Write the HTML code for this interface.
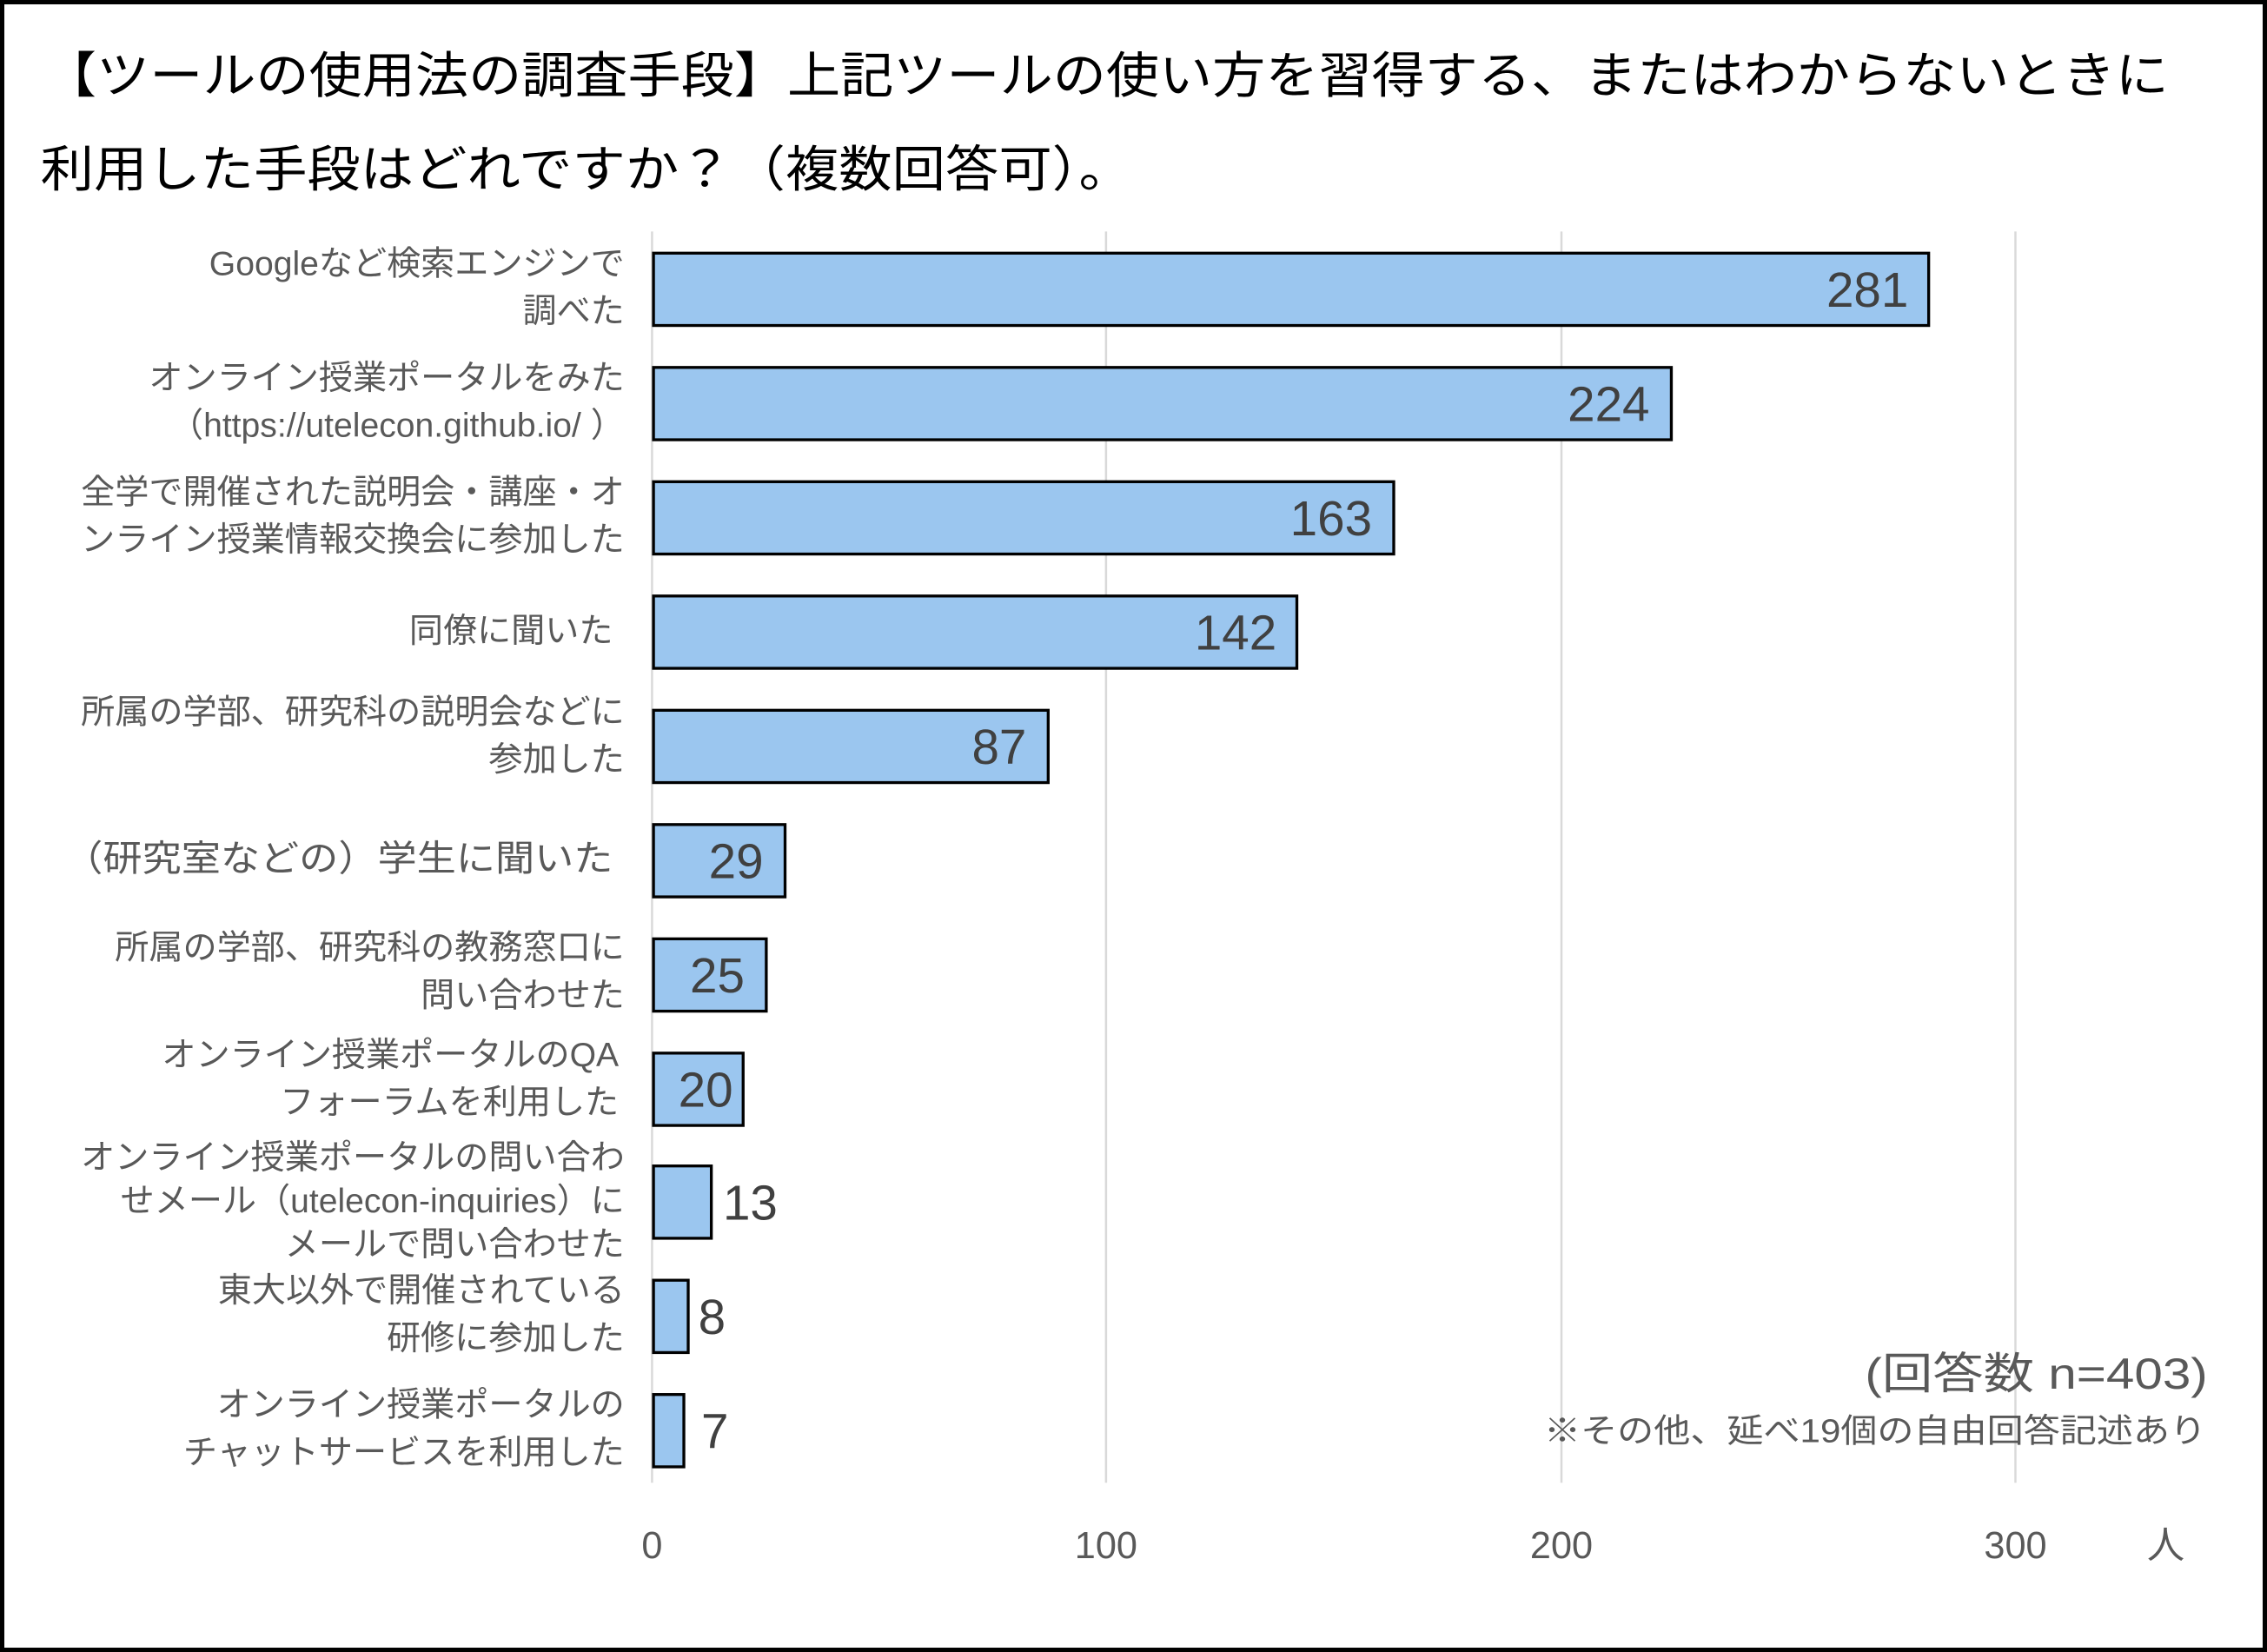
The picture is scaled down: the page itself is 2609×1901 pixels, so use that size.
<!DOCTYPE html>
<html><head><meta charset="utf-8"><style>
html,body{margin:0;padding:0;background:#fff;}
svg{display:block;}
text{font-family:"Liberation Sans","Noto Sans CJK JP",sans-serif;}
</style></head><body>
<svg width="2609" height="1901" viewBox="0 0 1568 1142" preserveAspectRatio="none" xmlns="http://www.w3.org/2000/svg">
<rect x="1.5" y="1.5" width="1565" height="1139" fill="#fff" stroke="#000" stroke-width="3"/>
<text x="30" y="64" font-size="34" fill="#000" textLength="1470" lengthAdjust="spacingAndGlyphs">【ツールの使用法の調査手段】上記ツールの使い方を習得する、またはわからないときに</text>
<text x="28" y="129" font-size="34" fill="#000" textLength="755" lengthAdjust="spacingAndGlyphs">利用した手段はどれですか？（複数回答可）。</text>
<g stroke="#d9d9d9" stroke-width="1.5">
<line x1="451" y1="160" x2="451" y2="1025"/><line x1="765" y1="160" x2="765" y2="1025"/>
<line x1="1080" y1="160" x2="1080" y2="1025"/><line x1="1394" y1="160" x2="1394" y2="1025"/>
</g>
<g fill="#9BC6EF" stroke="#000" stroke-width="2">
<rect x="452" y="175" width="882" height="50"/>
<rect x="452" y="254" width="704" height="50"/>
<rect x="452" y="333" width="512" height="50"/>
<rect x="452" y="412" width="445" height="50"/>
<rect x="452" y="491" width="273" height="50"/>
<rect x="452" y="570" width="91" height="50"/>
<rect x="452" y="649" width="78" height="50"/>
<rect x="452" y="728" width="62" height="50"/>
<rect x="452" y="806" width="40" height="50"/>
<rect x="452" y="885" width="24" height="50"/>
<rect x="452" y="964" width="21" height="50"/>
</g>
<g font-size="34" fill="#404040">
<text x="1320" y="212" text-anchor="end">281</text>
<text x="1141" y="291" text-anchor="end">224</text>
<text x="949" y="370" text-anchor="end">163</text>
<text x="883" y="449" text-anchor="end">142</text>
<text x="710" y="528" text-anchor="end">87</text>
<text x="528" y="607" text-anchor="end">29</text>
<text x="515" y="686" text-anchor="end">25</text>
<text x="507" y="765" text-anchor="end">20</text>
<text x="500" y="843">13</text>
<text x="483" y="922">8</text>
<text x="485" y="1001">7</text>
</g>
<g font-size="23.5" fill="#595959" text-anchor="end">
<text x="432" y="190">Googleなど検索エンジンで</text><text x="432" y="223">調べた</text>
<text x="432" y="269">オンライン授業ポータルをみた</text><text x="432" y="302">（https://utelecon.github.io/ ）</text>
<text x="432" y="348">全学で開催された説明会・講座・オ</text><text x="432" y="381">ンライン授業情報交換会に参加した</text>
<text x="424" y="444">同僚に聞いた</text>
<text x="432" y="500">所属の学部、研究科の説明会などに</text><text x="432" y="533">参加した</text>
<text x="432" y="663">所属の学部、研究科の教務窓口に</text><text x="432" y="696">問い合わせた</text>
<text x="428" y="737">オンライン授業ポータルのQA</text><text x="428" y="770">フォーラムを利用した</text>
<text x="432" y="808">オンライン授業ポータルの問い合わ</text><text x="432" y="838">せメール（utelecon-inquiries）に</text><text x="432" y="868">メールで問い合わせた</text>
<text x="432" y="900">東大以外で開催されている</text><text x="432" y="933">研修に参加した</text>
<text x="432" y="979">オンライン授業ポータルの</text><text x="432" y="1012">チャットサービスを利用した</text>
</g>
<text x="44" y="602" font-size="25" fill="#595959" textLength="380" lengthAdjust="spacingAndGlyphs">（研究室などの）学生に聞いた</text>
<g font-size="26" fill="#595959" text-anchor="middle">
<text x="451" y="1077">0</text><text x="765" y="1077">100</text><text x="1080" y="1077">200</text><text x="1394" y="1077">300</text><text x="1498" y="1077">人</text>
</g>
<text x="1290" y="960" font-size="30" fill="#595959" textLength="237" lengthAdjust="spacingAndGlyphs">(回答数 n=403)</text>
<text x="1068" y="997" font-size="23" fill="#595959" textLength="458" lengthAdjust="spacingAndGlyphs">※その他、延べ19個の自由回答記述あり</text>
</svg>
</body></html>
